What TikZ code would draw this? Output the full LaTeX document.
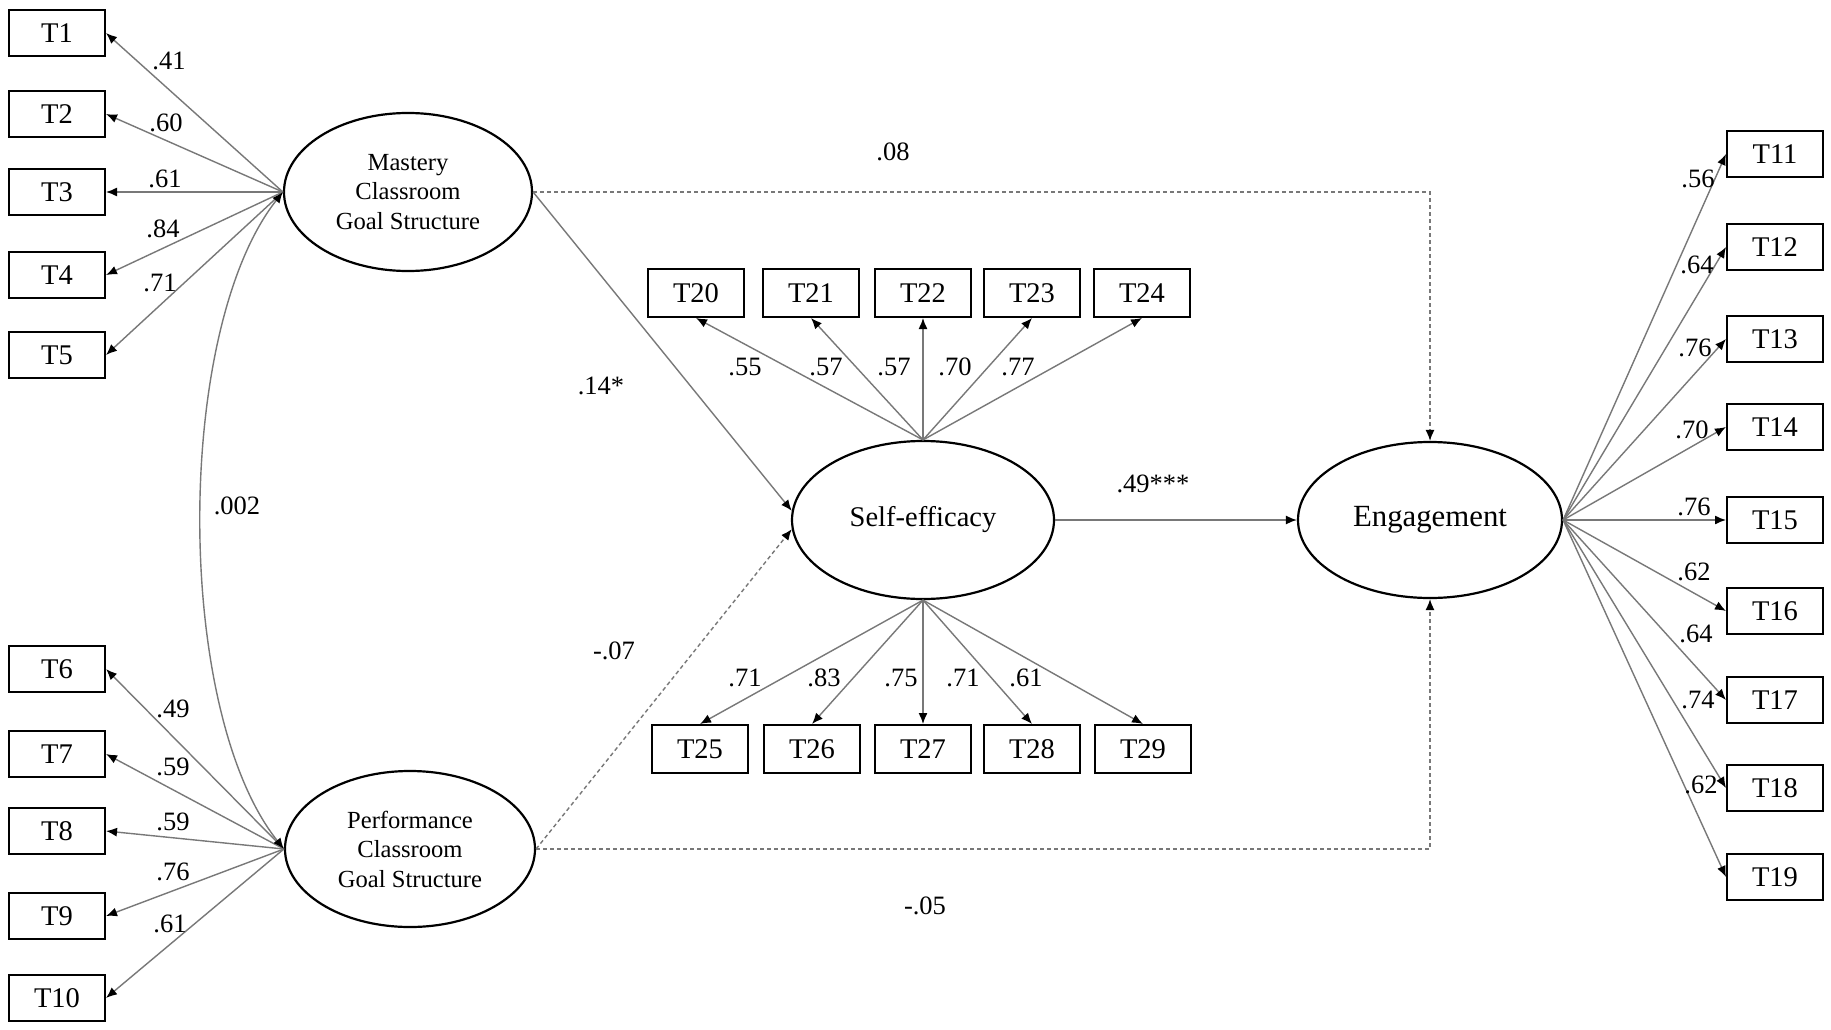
\documentclass[tikz,border=0pt]{standalone}
\usepackage{fontspec}
\setmainfont{Liberation Serif}
\usetikzlibrary{shapes.geometric,arrows.meta}
\definecolor{linegray}{RGB}{120,120,120}
\begin{document}
\begin{tikzpicture}[x=1pt,y=-1pt,
  >={Latex[length=11pt,width=9pt,color=black]},
  obs/.style={draw=black, line width=2pt, minimum width=96pt, minimum height=46pt, inner sep=0pt, font=\fontsize{28.5}{30}\selectfont},
  lat/.style={draw=black, line width=2.2pt, ellipse, inner sep=0pt, align=center},
  conn/.style={draw=linegray, line width=1.4pt, ->},
  dconn/.style={conn, dash pattern=on 4pt off 3pt},
  lbl/.style={font=\fontsize{26.5}{30}\selectfont, inner sep=0pt}]
\useasboundingbox (0,0) rectangle (1831,1030);
\fill[white] (0,0) rectangle (1831,1030);

% latent variables
\node[lat, minimum width=248pt, minimum height=158pt, font=\fontsize{24.6}{29.5}\selectfont] (mas) at (408,192) {Mastery\\Classroom\\Goal Structure};
\node[lat, minimum width=250pt, minimum height=156pt, font=\fontsize{24.6}{29.5}\selectfont] (perf) at (410,849) {Performance\\Classroom\\Goal Structure};
\node[lat, minimum width=262pt, minimum height=158pt, font=\fontsize{28.5}{30}\selectfont] (se) at (923,520) {Self-efficacy};
\node[lat, minimum width=264pt, minimum height=156pt, font=\fontsize{30.8}{32}\selectfont] (eng) at (1430,520) {Engagement};

% left indicators
\node[obs] (T1) at (57,33) {T1};
\node[obs] (T2) at (57,114) {T2};
\node[obs] (T3) at (57,192) {T3};
\node[obs] (T4) at (57,275) {T4};
\node[obs] (T5) at (57,355) {T5};
\node[obs] (T6) at (57,669) {T6};
\node[obs] (T7) at (57,754) {T7};
\node[obs] (T8) at (57,831) {T8};
\node[obs] (T9) at (57,916) {T9};
\node[obs] (T10) at (57,998) {T10};

% self-efficacy indicators
\node[obs, minimum height=48pt] (T20) at (696,293) {T20};
\node[obs, minimum height=48pt] (T21) at (811,293) {T21};
\node[obs, minimum height=48pt] (T22) at (923,293) {T22};
\node[obs, minimum height=48pt] (T23) at (1032,293) {T23};
\node[obs, minimum height=48pt] (T24) at (1142,293) {T24};
\node[obs, minimum height=48pt] (T25) at (700,749) {T25};
\node[obs, minimum height=48pt] (T26) at (812,749) {T26};
\node[obs, minimum height=48pt] (T27) at (923,749) {T27};
\node[obs, minimum height=48pt] (T28) at (1032,749) {T28};
\node[obs, minimum height=48pt] (T29) at (1143,749) {T29};

% engagement indicators
\node[obs] (T11) at (1775,154) {T11};
\node[obs] (T12) at (1775,247) {T12};
\node[obs] (T13) at (1775,339) {T13};
\node[obs] (T14) at (1775,427) {T14};
\node[obs] (T15) at (1775,520) {T15};
\node[obs] (T16) at (1775,611) {T16};
\node[obs] (T17) at (1775,700) {T17};
\node[obs] (T18) at (1775,788) {T18};
\node[obs] (T19) at (1775,877) {T19};

% loadings
\foreach \t in {T1,T2,T3,T4,T5} \draw[conn] (mas.west) -- (\t.east);
\foreach \t in {T6,T7,T8,T9,T10} \draw[conn] (perf.west) -- (\t.east);
\foreach \t in {T20,T21,T22,T23,T24} \draw[conn] (se.north) -- (\t.south);
\foreach \t in {T25,T26,T27,T28,T29} \draw[conn] (se.south) -- (\t.north);
\foreach \t in {T11,T12,T13,T14,T15,T16,T17,T18,T19} \draw[conn] (eng.east) -- (\t.west);

% covariance
\draw[conn, <->] (mas.west) .. controls (174,330) and (174,711) .. (perf.west);

% structural paths
\draw[conn] (mas.east) -- (se.176);
\draw[dconn] (perf.east) -- (se.184);
\draw[dconn] (mas.east) -| (eng.north);
\draw[dconn] (perf.east) -| (eng.south);
\draw[conn] (se.east) -- (eng.west);

% labels
\node[lbl] (l1) at (169,61) {.41};
\node[lbl] (l2) at (166,123) {.60};
\node[lbl] (l3) at (165,179) {.61};
\node[lbl] (l4) at (163,229) {.84};
\node[lbl] (l5) at (160,283) {.71};
\node[lbl] (l6) at (173,709) {.49};
\node[lbl] (l7) at (173,767) {.59};
\node[lbl] (l8) at (173,822) {.59};
\node[lbl] (l9) at (173,872) {.76};
\node[lbl] (l10) at (170,924) {.61};
\node[lbl] (lcov) at (237,506) {.002};
\node[lbl] (l20) at (745,367) {.55};
\node[lbl] (l21) at (826,367) {.57};
\node[lbl] (l22) at (894,367) {.57};
\node[lbl] (l23) at (955,367) {.70};
\node[lbl] (l24) at (1018,367) {.77};
\node[lbl] (l25) at (745,678) {.71};
\node[lbl] (l26) at (824,678) {.83};
\node[lbl] (l27) at (901,678) {.75};
\node[lbl] (l28) at (963,678) {.71};
\node[lbl] (l29) at (1026,678) {.61};
\node[lbl] (l11) at (1698,179) {.56};
\node[lbl] (l12) at (1697,265) {.64};
\node[lbl] (l13) at (1695,348) {.76};
\node[lbl] (l14) at (1692,430) {.70};
\node[lbl] (l15) at (1694,507) {.76};
\node[lbl] (l16) at (1694,572) {.62};
\node[lbl] (l17) at (1696,634) {.64};
\node[lbl] (l18) at (1698,700) {.74};
\node[lbl] (l19) at (1701,785) {.62};
\node[lbl] (lms) at (601,386) {.14*};
\node[lbl] (lps) at (614,651) {-.07};
\node[lbl] (lme) at (893,152) {.08};
\node[lbl] (lpe) at (925,906) {-.05};
\node[lbl] (lse) at (1153,484) {.49***};
\end{tikzpicture}
\end{document}
